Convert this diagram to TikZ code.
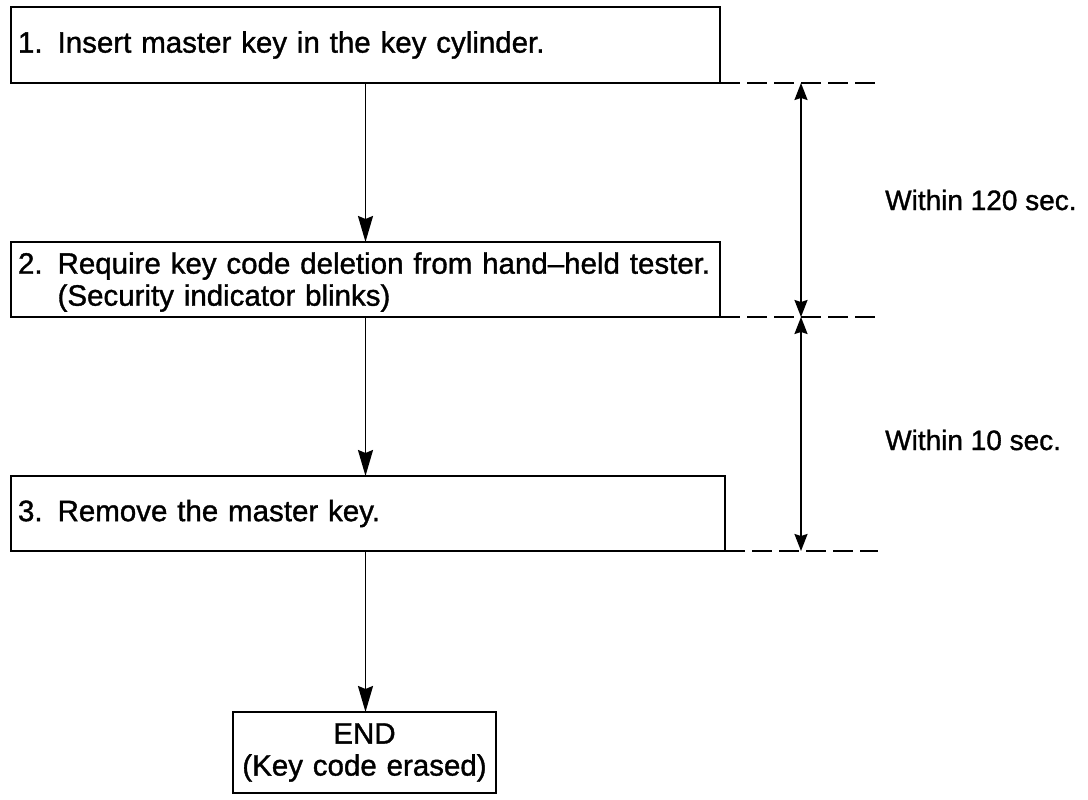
\documentclass[tikz,border=0pt]{standalone}
\usepackage{fontspec}
\setmainfont{Liberation Sans}[FakeBold=1.2]
\usetikzlibrary{arrows.meta,calc}
\begin{document}
\begin{tikzpicture}[x=1pt,y=-1pt,
  box/.style={draw,line width=2.3pt,outer sep=0pt,anchor=north west,inner xsep=7pt,inner ysep=0pt,align=left,font=\fontsize{29.5}{32}\selectfont},
  flow/.style={line width=1.9pt,-{Stealth[length=26pt,width=15pt,inset=3pt]}},
  span/.style={line width=1.9pt,{Stealth[length=17pt,width=13pt,inset=2pt]}-{Stealth[length=17pt,width=13pt,inset=2pt]}},
  guide/.style={line width=1.9pt,dash pattern=on 20pt off 7pt},
  lbl/.style={anchor=base west,font=\fontsize{28}{30}\selectfont,inner sep=0pt}]
\useasboundingbox (0,0) rectangle (1088,800);
\node[box,text width=695pt,minimum height=76pt] (b1) at (11,7) {1.\hspace{15pt}Insert master key in the key cylinder.};
\node[box,text width=695pt,minimum height=75pt] (b2) at (11,242) {\rule{0pt}{26.5pt}2.\hspace{15pt}Require key code deletion from hand–held tester.\\\hphantom{2.}\hspace{15pt}(Security indicator blinks)};
\node[box,text width=700pt,minimum height=75pt] (b3) at (11,476) {3.\hspace{15pt}Remove the master key.};
\node[box,text width=249pt,minimum height=81pt,align=center] (end) at (233,712) {END\\(Key code erased)};
\draw[flow] (b1.south) -- (b2.north -| b1.south);
\draw[flow] (b2.south -| b1.south) -- (b3.north -| b1.south);
\draw[flow] (b3.south -| b1.south) -- (end.north -| b1.south);
\coordinate (gx) at (878,0);
\coordinate (tx) at (801,0);
\coordinate (g1) at (b1.south east -| gx);
\coordinate (g2) at (b2.south east -| gx);
\coordinate (g3) at (b3.south east -| gx);
\draw[guide] (b1.south east) -- (g1);
\draw[guide] (b2.south east) -- (g2);
\draw[guide] (b3.south east) -- (g3);
\coordinate (t1) at (b1.south east -| tx);
\coordinate (t2) at (b2.south east -| tx);
\coordinate (t3) at (b3.south east -| tx);
\draw[span] (t1) -- (t2);
\draw[span] (t2) -- (t3);
\node[lbl] (l1) at (885,210) {Within 120 sec.};
\node[lbl] (l2) at (885,450) {Within 10 sec.};
\end{tikzpicture}
\end{document}
